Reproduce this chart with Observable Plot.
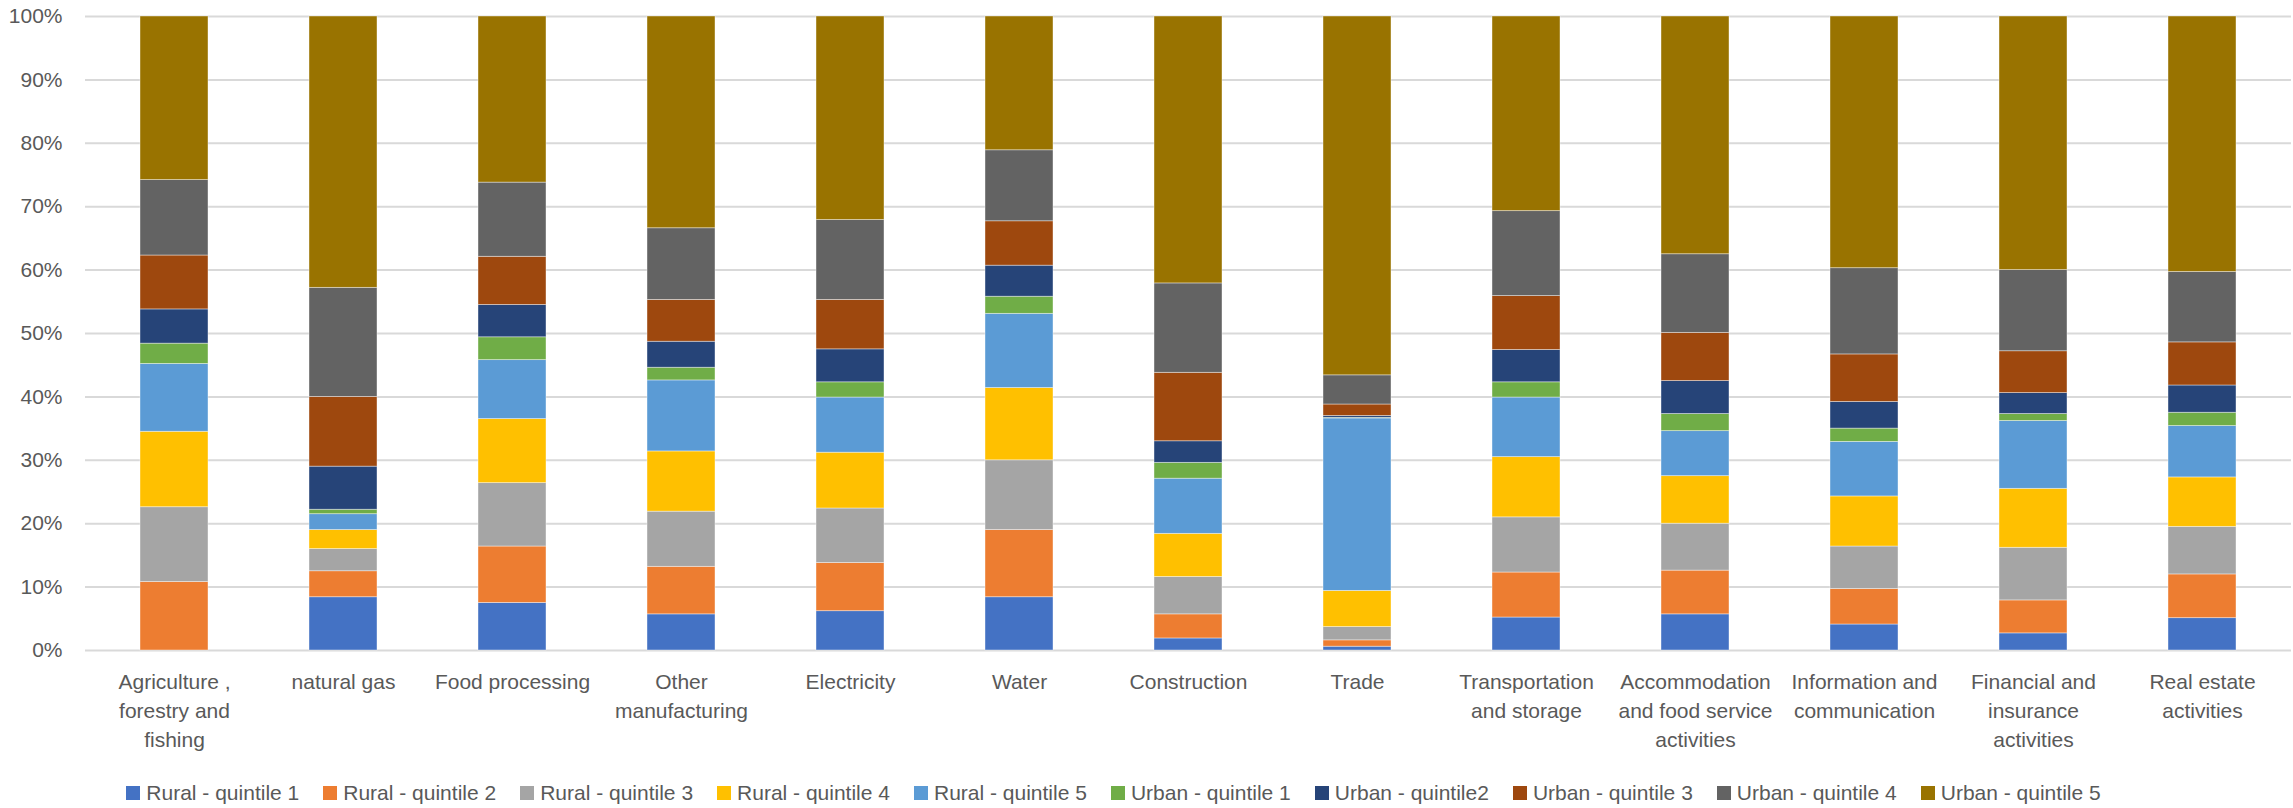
<!DOCTYPE html>
<html>
<head>
<meta charset="utf-8">
<script src="https://cdn.jsdelivr.net/npm/d3@7"></script>
<script src="https://cdn.jsdelivr.net/npm/@observablehq/plot@0.6"></script>
<style>
  html, body { margin: 0; padding: 0; background: #fff; }
  #chart svg { display: block; }
  #legend { display: flex; justify-content: center; align-items: center; height: 30px;
    font-family: "Liberation Sans", Arial, sans-serif; font-size: 21px; color: #595959;
    padding-right: 66px; }
  .item { display: flex; align-items: center; margin: 0 12px; white-space: nowrap; }
  .sw { width: 14px; height: 14px; margin-right: 6px; }
</style>
</head>
<body>
<div id="chart"></div>
<div id="legend"></div>
<script>
const categories = ["Agriculture , forestry and fishing", "natural gas", "Food processing", "Other manufacturing",
  "Electricity", "Water", "Construction", "Trade", "Transportation and storage",
  "Accommodation and food service activities", "Information and communication",
  "Financial and insurance activities", "Real estate activities"];
const tickLabels = ["Agriculture ,\nforestry and\nfishing", "natural gas", "Food processing", "Other\nmanufacturing",
  "Electricity", "Water", "Construction", "Trade", "Transportation\nand storage",
  "Accommodation\nand food service\nactivities", "Information and\ncommunication",
  "Financial and\ninsurance\nactivities", "Real estate\nactivities"];
const series = ["Rural - quintile 1", "Rural - quintile 2", "Rural - quintile 3", "Rural - quintile 4", "Rural - quintile 5",
  "Urban - quintile 1", "Urban - quintile2", "Urban - quintile 3", "Urban - quintile 4", "Urban - quintile 5"];
const colors = ["#4472C4", "#ED7D31", "#A5A5A5", "#FFC000", "#5B9BD5", "#70AD47", "#264478", "#9E480E", "#636363", "#997300"];

const ruralQ1 = [0.0, 8.4, 7.5, 5.7, 6.2, 8.4, 1.9, 0.6, 5.2, 5.7, 4.1, 2.7, 5.1];
const ruralQ2 = [10.8, 4.1, 8.9, 7.5, 7.6, 10.6, 3.8, 1.0, 7.1, 6.9, 5.6, 5.2, 6.9];
const ruralQ3 = [11.8, 3.5, 10.0, 8.7, 8.6, 11.0, 5.9, 2.1, 8.7, 7.4, 6.7, 8.3, 7.5];
const ruralQ4 = [11.9, 3.0, 10.1, 9.5, 8.8, 11.4, 6.8, 5.7, 9.5, 7.5, 7.9, 9.3, 7.8];
const ruralQ5 = [10.7, 2.5, 9.3, 11.2, 8.7, 11.7, 8.7, 27.2, 9.4, 7.1, 8.6, 10.7, 8.1];
const urbanQ1 = [3.2, 0.7, 3.6, 2.0, 2.4, 2.7, 2.5, 0.1, 2.4, 2.7, 2.1, 1.1, 2.1];
const urbanQ2 = [5.4, 6.8, 5.1, 4.1, 5.2, 4.9, 3.4, 0.3, 5.1, 5.2, 4.2, 3.3, 4.3];
const urbanQ3 = [8.5, 11.0, 7.6, 6.6, 7.8, 7.0, 10.8, 1.8, 8.5, 7.6, 7.5, 6.6, 6.8];
const urbanQ4 = [11.9, 17.2, 11.7, 11.3, 12.6, 11.2, 14.1, 4.6, 13.4, 12.4, 13.6, 12.8, 11.1];
const urbanQ5 = [25.8, 42.8, 26.2, 33.4, 32.1, 21.1, 42.1, 56.6, 30.7, 37.5, 39.7, 40.0, 40.3];
const yTicks = [0, 0.1, 0.2, 0.3, 0.4, 0.5, 0.6, 0.7, 0.8, 0.9, 1.0];

const seriesValues = [ruralQ1, ruralQ2, ruralQ3, ruralQ4, ruralQ5, urbanQ1, urbanQ2, urbanQ3, urbanQ4, urbanQ5];
const data = [];
series.forEach((s, si) => seriesValues[si].forEach((v, ci) => data.push({cat: categories[ci], series: s, value: v})));

const font = '"Liberation Sans", Arial, sans-serif';
const chart = Plot.plot({
  width: 2293,
  height: 778,
  marginLeft: 85,
  marginRight: 2,
  marginTop: 16,
  marginBottom: 128,
  style: {fontFamily: font, fontSize: "21px", color: "#595959", background: "#fff"},
  x: {domain: categories, paddingInner: 0.6, paddingOuter: 0.3, align: 0.5, axis: null},
  y: {domain: [0, 1], axis: null},
  color: {domain: series, range: colors},
  marks: [
    Plot.ruleY(yTicks, {stroke: "#d9d9d9", strokeWidth: 2}),
    Plot.barY(data, {x: "cat", y: "value", fill: "series", offset: "normalize",
      stroke: "#ffffff", strokeWidth: 0.8, strokeOpacity: 0.5}),
    Plot.text(yTicks, {y: d => d, text: d => Math.round(d * 100) + "%", frameAnchor: "left",
      textAnchor: "end", dx: -23, fill: "#595959", fontSize: 21}),
    Plot.text(categories, {x: d => d, text: (d, i) => tickLabels[i], frameAnchor: "bottom",
      lineAnchor: "top", dy: 18, lineHeight: 1.38, fill: "#595959", fontSize: 21})
  ]
});
document.getElementById("chart").append(chart);

const legend = document.getElementById("legend");
series.forEach((s, i) => {
  const item = document.createElement("div");
  item.className = "item";
  const sw = document.createElement("span");
  sw.className = "sw";
  sw.style.background = colors[i];
  const t = document.createElement("span");
  t.textContent = s;
  item.append(sw, t);
  legend.append(item);
});
</script>
</body>
</html>
